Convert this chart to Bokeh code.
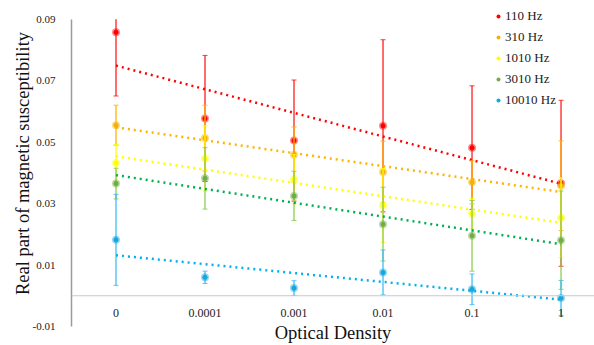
import numpy as np
from bokeh.plotting import figure
from bokeh.models import ColumnDataSource, FixedTicker, Span, Range1d
from bokeh.embed import file_html
from bokeh.resources import INLINE

categories = ["0", "0.0001", "0.001", "0.01", "0.1", "1"]
series_names = ["110 Hz", "310 Hz", "1010 Hz", "3010 Hz", "10010 Hz"]
hz110 = [0.0857, 0.0577, 0.0505, 0.0553, 0.0482, 0.0366]
err110 = [0.0207, 0.0205, 0.0197, 0.0280, 0.0201, 0.0270]
hz310 = [0.0555, 0.0513, 0.0459, 0.0403, 0.0369, 0.0358]
err310 = [0.0065, 0.0107, 0.0090, 0.0100, 0.0070, 0.0146]
hz1010 = [0.0432, 0.0447, 0.0379, 0.0294, 0.0267, 0.0254]
err1010 = [0.0060, 0.0106, 0.0080, 0.0120, 0.0050, 0.0130]
hz3010 = [0.0365, 0.0382, 0.0325, 0.0233, 0.0195, 0.0181]
err3010 = [0.0050, 0.0100, 0.0080, 0.0120, 0.0115, 0.0160]
hz10010 = [0.0182, 0.0060, 0.0025, 0.0076, 0.0021, -0.0007]
err10010 = [0.0148, 0.0020, 0.0024, 0.0073, 0.0050, 0.0057]
y_ticks = [-0.01, 0.01, 0.03, 0.05, 0.07, 0.09]

marker_colors = ["#FF0000", "#F5B000", "#FFFF00", "#70AD47", "#16A6E0"]
bar_colors = ["#FF1A1A", "#FFB400", "#FFFF00", "#8CCB4E", "#3CBDF0"]
trend_colors = ["#FF0000", "#FFB400", "#FFFF00", "#00B050", "#00B0F0"]

values = [hz110, hz310, hz1010, hz3010, hz10010]
errors = [err110, err310, err1010, err3010, err10010]

FONT = "Liberation Serif"
y_min, y_max = y_ticks[0], y_ticks[-1]

# plot area ends at 0.09 (as in the original); the frame extends a little higher
# so that the legend, which sits above the plot area, is not clipped
p = figure(width=594, height=345, output_backend="svg", toolbar_location=None,
           x_range=Range1d(-0.5, 5.376), y_range=Range1d(y_min, 0.09607),
           min_border_left=71, min_border_right=0, min_border_top=0, min_border_bottom=13)
p.outline_line_color = None
p.xgrid.visible = False
p.ygrid.visible = False
p.background_fill_color = "white"

xs = list(range(len(categories)))

p.add_layout(Span(location=0, dimension="width", line_color="#c8c8c8", line_width=1))

for name, vals, errs, mc, bc, tc in zip(series_names, values, errors, marker_colors, bar_colors, trend_colors):
    v = np.array(vals)
    e = np.array(errs)
    up = v + e
    lo = v - e
    src = ColumnDataSource(dict(x=xs, y=v, upper=up, lower=lo,
                                upper_shown=np.minimum(up, y_max)))
    # error bars (clipped at the top of the plot area like the original)
    p.segment(x0="x", y0="lower", x1="x", y1="upper_shown", source=src,
              line_color=bc, line_width=1.5, line_alpha=0.85)
    p.scatter("x", "upper", source=src, marker="dash", size=5,
              line_color=bc, line_width=1, line_alpha=0.85)
    p.scatter("x", "lower", source=src, marker="dash", size=5,
              line_color=bc, line_width=1, line_alpha=0.85)
    # linear trendline (least squares, as in the original chart)
    slope, intercept = np.polyfit(np.array(xs, dtype=float), v, 1)
    tx = [xs[0], xs[-1]]
    ty = [intercept + slope * xs[0], intercept + slope * xs[-1]]
    p.line(tx, ty, line_color=tc, line_width=2.5, line_dash="2 4")
    p.scatter("x", "y", source=src, size=8, fill_color=mc, fill_alpha=0.45, line_color=None)
    p.scatter("x", "y", source=src, size=5, fill_color=mc, line_color=None, legend_label=name)

# axes
p.xaxis.ticker = FixedTicker(ticks=xs)
p.xaxis.major_label_overrides = {i: c for i, c in enumerate(categories)}
p.xaxis.axis_line_color = None
p.xaxis.major_tick_line_color = None
p.xaxis.minor_tick_line_color = None
p.xaxis.major_label_standoff = -24
p.xaxis.major_label_text_font = FONT
p.xaxis.major_label_text_font_size = "12px"
p.xaxis.major_label_text_color = "#222222"
p.xaxis.axis_label = "Optical Density"
p.xaxis.axis_label_text_font = FONT
p.xaxis.axis_label_text_font_size = "18.5px"
p.xaxis.axis_label_text_font_style = "normal"
p.xaxis.axis_label_text_color = "#111111"
p.xaxis.axis_label_standoff = 3

p.yaxis.ticker = FixedTicker(ticks=y_ticks)
p.yaxis.bounds = (y_min, y_max)
p.yaxis.major_label_overrides = {t: f"{t:.2f}" for t in y_ticks}
p.yaxis.axis_line_color = "#9a9a9a"
p.yaxis.axis_line_width = 1.5
p.yaxis.major_tick_line_color = None
p.yaxis.minor_tick_line_color = None
p.yaxis.major_label_standoff = 10
p.yaxis.major_label_text_font = FONT
p.yaxis.major_label_text_font_size = "11px"
p.yaxis.major_label_text_color = "#222222"
p.yaxis.axis_label = "Real part of magnetic susceptibility"
p.yaxis.axis_label_text_font = FONT
p.yaxis.axis_label_text_font_size = "18.5px"
p.yaxis.axis_label_text_font_style = "normal"
p.yaxis.axis_label_text_color = "#111111"
p.yaxis.axis_label_standoff = -3

leg = p.legend[0]
leg.location = (422, 216)
leg.border_line_color = None
leg.background_fill_alpha = 0
leg.padding = 0
leg.margin = 0
leg.spacing = 1
leg.glyph_width = 10
leg.glyph_height = 20
leg.label_height = 20
leg.label_standoff = 2
leg.label_text_font = FONT
leg.label_text_font_size = "13px"
leg.label_text_color = "#222222"

open("out.html", "w").write(file_html(p, INLINE))
